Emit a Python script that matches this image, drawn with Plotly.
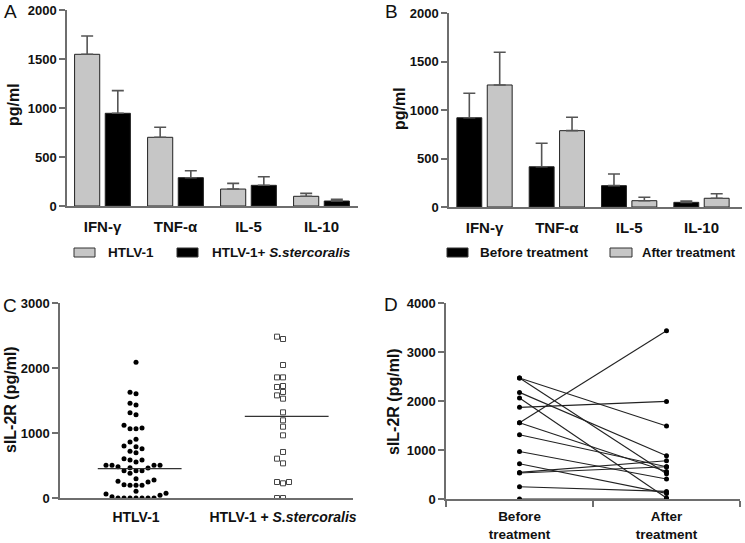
import plotly.graph_objects as go

# ---------------- data ----------------
cytokines = ["IFN-γ", "TNF-α", "IL-5", "IL-10"]

# Panel A
htlv_mean = [1548, 701, 173, 99]
htlv_sem = [186, 102, 58, 30]
htlv_ss_mean = [946, 289, 211, 51]
htlv_ss_sem = [231, 71, 88, 17]

# Panel B
before_mean = [920, 415, 220, 48]
before_sem = [252, 242, 120, 14]
after_mean = [1258, 787, 65, 90]
after_sem = [337, 138, 35, 47]

# Panel C (sIL-2R, pg/ml)
c_groups = ["HTLV-1", "HTLV-1 + <i>S.stercoralis</i>"]
c_htlv = [2087, 1626, 1605, 1456, 1431, 1313, 1282, 1118, 1077, 1067, 1067,
          903, 862, 800, 790, 759, 718, 697, 605, 585, 585, 554,
          503, 503, 503, 503, 482, 467, 462, 420, 420, 420, 380, 297,
          277, 256, 246, 205, 195, 195, 195, 103, 72, 62, 41, 20,
          0, 0, 0, 0, 0, 0, 0]
c_htlv_ss = [2482, 2446, 2046, 1856, 1856, 1723, 1708, 1631, 1579, 1528,
             1318, 1195, 1097, 964, 708, 605, 533, 246, 246, 226, 0, 0]
c_medians = [451, 1257]

# Panel D (paired sIL-2R)
d_labels = ["Before<br>treatment", "After<br>treatment"]
d_before = [2469, 2469, 2176, 2061, 1870, 1557, 1557, 1312, 971, 720, 543, 531, 251, 0]
d_after = [1490, 516, 884, 20, 1992, 3435, 563, 659, 408, 114, 782, 659, 155, 0]

# tick values
ab_ticks = [0, 500, 1000, 1500, 2000]
c_ticks = [0, 1000, 2000, 3000]
d_ticks = [0, 1000, 2000, 3000, 4000]

# ---------------- helpers ----------------
W, H = 745, 543
def X(px):
    return px / W
def Y(py):
    return 1 - py / H

LIGHT = "#c6c6c6"
DARK = "#000000"
AXC = "#6e6e6e"
FONT = "Liberation Sans"

def bfont(size, color="#111"):
    return dict(family=FONT, size=size, color=color)

def btxt(vals):
    return ["<b>%s</b>" % v for v in vals]

def swarm(values, center, xs_px, ys_px, step=6.0, diam=5.4):
    placed = []
    out = [0.0] * len(values)
    cands = [0]
    for n in range(1, 30):
        cands += [-n, n]
    for i in sorted(range(len(values)), key=lambda k: values[k]):
        yp = values[i] * ys_px
        xp = 0.0
        for c in cands:
            xp = c * step
            if all((xp - a) ** 2 + (yp - b) ** 2 >= diam ** 2 for a, b in placed):
                break
        placed.append((xp, yp))
        out[i] = center + xp / xs_px
    return out

fig = go.Figure()

# ---------------- Panel A ----------------
err_style = dict(type="data", symmetric=False, color="#555", thickness=1.6, width=6)
fig.add_trace(go.Bar(x=cytokines, y=htlv_mean, name="HTLV-1",
                     marker=dict(color=LIGHT, line=dict(color="#222", width=1)),
                     error_y=dict(array=htlv_sem, arrayminus=[0] * 4, **err_style),
                     xaxis="x", yaxis="y", showlegend=False))
fig.add_trace(go.Bar(x=cytokines, y=htlv_ss_mean, name="HTLV-1+ S.stercoralis",
                     marker=dict(color=DARK, line=dict(color="#222", width=1)),
                     error_y=dict(array=htlv_ss_sem, arrayminus=[0] * 4, **err_style),
                     xaxis="x", yaxis="y", showlegend=False))

# ---------------- Panel B ----------------
fig.add_trace(go.Bar(x=cytokines, y=before_mean, name="Before treatment",
                     marker=dict(color=DARK, line=dict(color="#222", width=1)),
                     error_y=dict(array=before_sem, arrayminus=[0] * 4, **err_style),
                     xaxis="x2", yaxis="y2", showlegend=False))
fig.add_trace(go.Bar(x=cytokines, y=after_mean, name="After treatment",
                     marker=dict(color=LIGHT, line=dict(color="#222", width=1)),
                     error_y=dict(array=after_sem, arrayminus=[0] * 4, **err_style),
                     xaxis="x2", yaxis="y2", showlegend=False))

# ---------------- Panel C ----------------
cx_px = 147.0           # px per category unit
cy_px = 195.0 / 3000.0  # px per pg/ml
x1 = swarm(c_htlv, 0, cx_px, cy_px)
x2 = swarm(c_htlv_ss, 1, cx_px, cy_px)
fig.add_trace(go.Scatter(x=x1, y=c_htlv, mode="markers", xaxis="x3", yaxis="y3",
                         marker=dict(symbol="circle", size=5, color="#000",
                                     line=dict(width=0)),
                         showlegend=False))
fig.add_trace(go.Scatter(x=x2, y=c_htlv_ss, mode="markers", xaxis="x3", yaxis="y3",
                         marker=dict(symbol="square-open", size=5, color="#444",
                                     line=dict(width=1)),
                         showlegend=False))
med_x, med_y = [], []
for i, m in enumerate(c_medians):
    med_x += [i - 0.26, i + 0.31, None]
    med_y += [m, m, None]
fig.add_trace(go.Scatter(x=med_x, y=med_y, mode="lines", xaxis="x3", yaxis="y3",
                         line=dict(color="#333", width=1.3), showlegend=False))

# ---------------- Panel D ----------------
dx, dy = [], []
for b, a in zip(d_before, d_after):
    dx += [0, 1, None]
    dy += [b, a, None]
fig.add_trace(go.Scatter(x=dx, y=dy, mode="lines+markers", xaxis="x4", yaxis="y4",
                         line=dict(color="#222", width=1.1),
                         marker=dict(size=5, color="#000"), showlegend=False))

# ---------------- axes ----------------
yax = dict(showline=True, linecolor=AXC, linewidth=1.5, ticks="outside",
           ticklen=6, tickwidth=1.5, tickcolor=AXC, showgrid=False, zeroline=False,
           tickfont=bfont(13), automargin=False)
xax = dict(showline=True, linecolor=AXC, linewidth=1.5, showgrid=False,
           zeroline=False, automargin=False, ticklen=0)

fig.update_layout(
    template="none",
    width=W, height=H, margin=dict(l=0, r=0, t=0, b=0, autoexpand=False),
    paper_bgcolor="white", plot_bgcolor="white",
    barmode="group", bargap=0.16, bargroupgap=0.18,
    xaxis=dict(domain=[X(67), X(358)], anchor="y", range=[-0.486, 3.5],
               ticks="", ticklabelstandoff=6, tickvals=cytokines,
               ticktext=btxt(cytokines), tickfont=bfont(15), **xax),
    yaxis=dict(domain=[Y(206), Y(10)], anchor="x", range=[0, 2000],
               tickvals=ab_ticks, ticktext=btxt(ab_ticks), **yax),
    xaxis2=dict(domain=[X(449), X(742)], anchor="y2", range=[-0.491, 3.56],
                ticks="", ticklabelstandoff=6, tickvals=cytokines,
                ticktext=btxt(cytokines), tickfont=bfont(15), **xax),
    yaxis2=dict(domain=[Y(207), Y(13)], anchor="x2", range=[0, 2000],
                tickvals=ab_ticks, ticktext=btxt(ab_ticks), **yax),
    xaxis3=dict(domain=[X(60), X(353)], anchor="y3", range=[-0.517, 1.476],
                tickvals=[0, 1], ticktext=btxt(c_groups), ticks="",
                ticklabelstandoff=5, tickfont=bfont(14), **xax),
    yaxis3=dict(domain=[Y(498), Y(303)], anchor="x3", range=[0, 3000],
                tickvals=c_ticks, ticktext=btxt(c_ticks), **yax),
    xaxis4=dict(domain=[X(446), X(740)], anchor="y4", range=[-0.5, 1.5],
                tickvals=[0, 1], ticktext=btxt(d_labels), ticks="",
                minor=dict(tickvals=[-0.5, 0.5, 1.5], ticks="outside", ticklen=6,
                           tickwidth=1.5, tickcolor=AXC, showgrid=False),
                ticklabelstandoff=4, tickfont=bfont(13.5), **xax),
    yaxis4=dict(domain=[Y(499), Y(303)], anchor="x4", range=[0, 4000],
                tickvals=d_ticks, ticktext=btxt(d_ticks), **yax),
)

# ---------------- legends (manual) & labels ----------------
shapes = []
annots = []
def swatch(x0, x1_, y0, y1, color):
    shapes.append(dict(type="rect", xref="paper", yref="paper",
                       x0=X(x0), x1=X(x1_), y0=Y(y1), y1=Y(y0),
                       fillcolor=color, line=dict(color="#333", width=1)))
def text(px, py, s, size, bold=True, anchor="left", angle=0):
    f = dict(family=FONT, size=size, color="#111")
    annots.append(dict(xref="paper", yref="paper", x=X(px), y=Y(py),
                       text=("<b>%s</b>" % s) if bold else s,
                       showarrow=False, xanchor=anchor, yanchor="middle",
                       font=f, textangle=angle))

swatch(74, 95, 248, 257, LIGHT)
text(106, 252.5, "HTLV-1", 13.5)
swatch(177, 198, 248, 257, DARK)
text(210, 252.5, "HTLV-1+ <i>S.stercoralis</i>", 13.5)

swatch(447, 468, 248, 257, DARK)
text(478, 252.5, "Before treatment", 13.5)
swatch(610, 632, 248, 257, LIGHT)
text(640, 252.5, "After treatment", 13)

text(10, 12, "A", 19, bold=False, anchor="center")
text(391, 12, "B", 19, bold=False, anchor="center")
text(10, 305, "C", 19, bold=False, anchor="center")
text(391, 304, "D", 19, bold=False, anchor="center")

text(14, 104, "pg/ml", 16, anchor="center", angle=-90)
text(399, 109, "pg/ml", 16, anchor="center", angle=-90)
text(10, 400, "sIL-2R (pg/ml)", 16, anchor="center", angle=-90)
text(393, 401, "sIL-2R (pg/ml)", 16, anchor="center", angle=-90)

fig.update_layout(shapes=shapes, annotations=annots)
fig.write_html("out.html",
               config={"displayModeBar": False},
               post_script="document.body.style.margin='0';"
                           "document.body.style.overflow='hidden';")
